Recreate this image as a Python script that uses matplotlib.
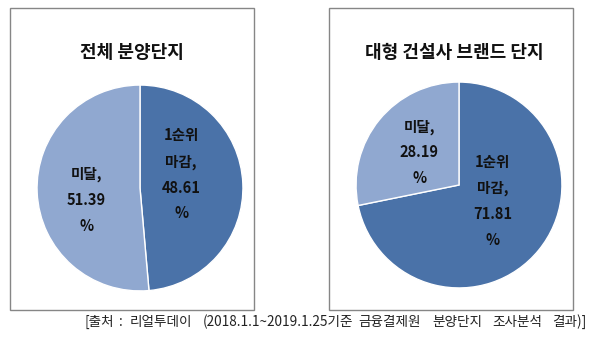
import matplotlib
matplotlib.use("Agg")
import matplotlib.pyplot as plt
from matplotlib.patches import Rectangle
import numpy as np

plt.rcParams["font.family"] = ["Noto Sans CJK KR", "DejaVu Sans"]

# chart data
titles = ["전체 분양단지", "대형 건설사 브랜드 단지"]
categories = ["1순위\n마감", "미달"]
shares = [
    [48.61, 51.39],
    [71.81, 28.19],
]
source_parts = ["[출처", ":", "리얼투데이", "(2018.1.1~2019.1.25기준",
                "금융결제원", "분양단지", "조사분석", "결과)]"]

colors = ["#4A72A8", "#90A8D0"]
W, H = 591, 337

fig = plt.figure(figsize=(W / 100, H / 100), dpi=100)
fig.patch.set_facecolor("white")


def px_box(x0, y0, x1, y1):
    # pixel box (top-left origin) -> figure fraction rect
    return [x0 / W, 1 - y1 / H, (x1 - x0) / W, (y1 - y0) / H]


# panel frames
frames = [(10, 8, 254, 310), (329, 8, 573, 310)]
for x0, y0, x1, y1 in frames:
    fig.patches.append(Rectangle((x0 / W, 1 - y1 / H), (x1 - x0) / W, (y1 - y0) / H,
                                 transform=fig.transFigure, fill=False,
                                 edgecolor="#868686", linewidth=1.0))

# pie placement: centre (px) and radius (px), plus label radius per slice
pies = [
    dict(cx=140, cy=188, r=105, title_y=53, title_x=132, label_r=[0.40, 0.52], label_shift=[12, -10]),
    dict(cx=459, cy=185, r=105, title_y=52, title_x=454, label_r=[0.42, 0.50], label_shift=[12, 0]),
]

for title, vals, cfg in zip(titles, shares, pies):
    cx, cy, r = cfg["cx"], cfg["cy"], cfg["r"]
    ax = fig.add_axes(px_box(cx - r, cy - r, cx + r, cy + r))
    wedges, _ = ax.pie(vals, colors=colors, startangle=90, counterclock=False,
                       radius=1.0, wedgeprops=dict(edgecolor="white", linewidth=1.0))
    ax.set_xlim(-1.02, 1.02)
    ax.set_ylim(-1.02, 1.02)
    ax.axis("off")

    for w, cat, v, lr, sh in zip(wedges, categories, vals, cfg["label_r"], cfg["label_shift"]):
        mid = np.deg2rad((w.theta1 + w.theta2) / 2)
        lx = lr * np.cos(mid)
        ly = lr * np.sin(mid) + sh / r
        ax.text(lx, ly, f"{cat},\n{v:.2f}\n%", ha="center", va="center",
                fontsize=10.5, fontweight="bold", color="#111111", linespacing=1.76)

    fig.text(cfg["title_x"] / W, 1 - cfg["title_y"] / H, title, ha="center", va="center",
             fontsize=13, fontweight="bold", color="#111111")

# source line, word groups laid out with wide gaps
note_x = [84, 119, 130, 203, 358, 432, 492, 552]
for x, part in zip(note_x, source_parts):
    fig.text(x / W, 1 - 322 / H, part, ha="left", va="center",
             fontsize=9.8, color="#222222")

fig.savefig("out.png", dpi=100, facecolor="white")
